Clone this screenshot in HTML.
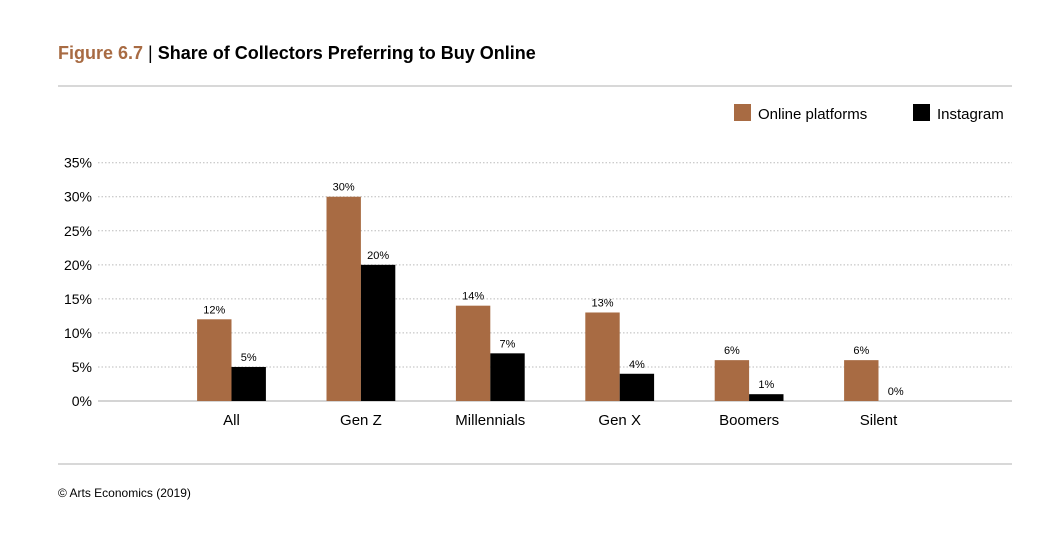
<!DOCTYPE html>
<html><head><meta charset="utf-8"><style>
body{margin:0;background:#fff;font-family:"Liberation Sans",sans-serif}
svg text{font-family:"Liberation Sans",sans-serif}
</style></head><body>
<svg width="1048" height="538" viewBox="0 0 1048 538">
<text x="58" y="59" font-size="18" font-weight="bold"><tspan fill="#a86b43">Figure 6.7</tspan><tspan fill="#000" font-weight="normal"> | </tspan><tspan fill="#000">Share of Collectors Preferring to Buy Online</tspan></text>
<line x1="58" y1="86" x2="1012" y2="86" stroke="#ccc" stroke-width="1.5"/>
<rect x="734" y="104" width="17" height="17" fill="#a86b43"/>
<text x="758" y="119" font-size="15">Online platforms</text>
<rect x="913" y="104" width="17" height="17" fill="#000"/>
<text x="937" y="119" font-size="15">Instagram</text>
<g id="plot"></g>
<line x1="58" y1="464" x2="1012" y2="464" stroke="#ccc" stroke-width="1.5"/>
<text x="58" y="497" font-size="12">© Arts Economics (2019)</text>
</svg>
<script>
const categories=["All","Gen Z","Millennials","Gen X","Boomers","Silent"];
const online=[12,30,14,13,6,6];
const instagram=[5,20,7,4,1,0];
const ticks=[0,5,10,15,20,25,30,35];
const NS="http://www.w3.org/2000/svg";
const g=document.getElementById('plot');
const y0=401,yTop=162.7,vmax=35;
const y=v=>y0-(y0-yTop)*v/vmax;
const x=i=>231.5+i*129.4;
const bw=34.4;
function mk(t,a){const e=document.createElementNS(NS,t);for(const k in a)e.setAttribute(k,a[k]);g.appendChild(e);return e;}
ticks.forEach(t=>{
 if(t>0){const l=mk('line',{x1:98,x2:1012,y1:y(t),y2:y(t),stroke:'#bbb','stroke-dasharray':'1.5 2'});
 
 }
 const tx=mk('text',{x:92,y:y(t)+5,'font-size':14,'text-anchor':'end'});tx.textContent=t+'%';
 
 
});
const ax=mk('line',{x1:98,x2:1012,y1:y0,y2:y0,stroke:'#bbb','stroke-width':1.2});


categories.forEach((c,i)=>{
 [[online,'#a86b43',-bw,'online'],[instagram,'#000',0,'instagram']].forEach(([s,col,off,n])=>{
  const v=s[i];
  const r=mk('rect',{x:x(i)+off,y:y(v),width:bw,height:y0-y(v),fill:col});
  
  
  const t=mk('text',{x:x(i)+off+bw/2,y:y(v)-6,'font-size':11,'text-anchor':'middle'});t.textContent=v+'%';
  
  
 });
 const t=mk('text',{x:x(i),y:425,'font-size':15,'text-anchor':'middle'});t.textContent=c;
 
 
});
</script>
</body></html>
